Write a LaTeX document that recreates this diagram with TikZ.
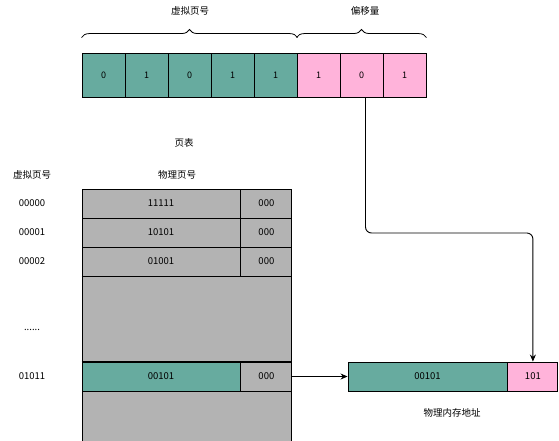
\documentclass[tikz,border=0pt]{standalone}
\usepackage{fontspec}
\setmainfont{Noto Sans CJK SC}
\usetikzlibrary{arrows.meta,decorations.pathreplacing}
\definecolor{vpngreen}{HTML}{67AB9F}
\definecolor{offpink}{HTML}{FFB3DA}
\definecolor{tablegray}{HTML}{B3B3B3}
\tikzset{
    cell/.style={draw, line width=0.9pt, minimum height=44pt, minimum width=43pt,
        inner sep=0pt, font=\fontsize{9}{10}\selectfont},
    row/.style={draw, line width=0.9pt, minimum height=29pt, inner sep=0pt,
        font=\fontsize{9.5}{10}\selectfont},
    lbl/.style={font=\fontsize{9.5}{10}\selectfont, inner sep=0pt},
    conn/.style={line width=0.9pt, -{Stealth[length=7pt,width=6pt]}}
}
\begin{document}
\begin{tikzpicture}[x=1pt,y=-1pt]
        \useasboundingbox (0,0) rectangle (559,440);
        % Virtual address bits
        \foreach \i/\bit/\col in {
            0/0/vpngreen,
            1/1/vpngreen,
            2/0/vpngreen,
            3/1/vpngreen,
            4/1/vpngreen,
            5/1/offpink,
            6/0/offpink,
            7/1/offpink} {
            \node[cell, fill=\col] (c\i) at (82+43*\i+21.5,75) {\bit};
        }
        % Braces and their labels
        \draw[line width=0.8pt, decorate, decoration={brace, amplitude=8pt}]
            (c0.north west) ++(0,-15) coordinate (bl) -- (c4.north east |- bl);
        \draw[line width=0.8pt, decorate, decoration={brace, amplitude=8pt}]
            (c5.north west |- bl) -- (c7.north east |- bl);
        \node[lbl] (vpnlabel) at (190,11) {虚拟页号};
        \node[lbl] (offlabel) at (365,11) {偏移量};
        \node[lbl] (tablelabel) at (184,143) {页表};
        % Page table
        \node[lbl] (vpnhead) at (32,175) {虚拟页号};
        \node[lbl] (ppnhead) at (177,175) {物理页号};
        \fill[tablegray] (82,189) rectangle (291,445);
        \draw[line width=0.9pt] (82,445) -- (82,189) -- (291,189) -- (291,445);
        \foreach \r/\y/\vpn/\ppn/\col in {
            0/203.5/00000/11111/tablegray,
            1/232.5/00001/10101/tablegray,
            2/261.5/00002/01001/tablegray,
            3/376.5/01011/00101/vpngreen} {
            \node[row, fill=\col, minimum width=158pt] (ppn\r) at (161,\y) {\ppn};
            \node[row, fill=tablegray, minimum width=51pt, anchor=west] (flag\r)
                at (ppn\r.east) {000};
            \node[lbl] (vpn\r) at (32,\y) {\vpn};
        }
        \draw[line width=0.9pt] (ppn2.south west) -- (flag2.south east);
        \draw[line width=0.9pt] (ppn3.north west) -- (flag3.north east);
        \node[lbl] (dots) at (32,330) {......};
        % Physical address
        \node[row, fill=vpngreen, minimum width=159pt] (pa) at (427.5,376.5) {00101};
        \node[row, fill=offpink, minimum width=50pt, anchor=west] (po) at (pa.east) {101};
        \node[lbl] (palabel) at (452,413) {物理内存地址};
        % Connectors
        \coordinate (turn) at (0,233);
        \coordinate (offout) at ([xshift=4pt]c6.south);
        \draw[conn] (flag3.east) -- (pa.west);
        \draw[conn, rounded corners=6pt] (offout) -- (offout |- turn)
            -- (po.north |- turn) -- (po.north);
    \end{tikzpicture}
\end{document}
